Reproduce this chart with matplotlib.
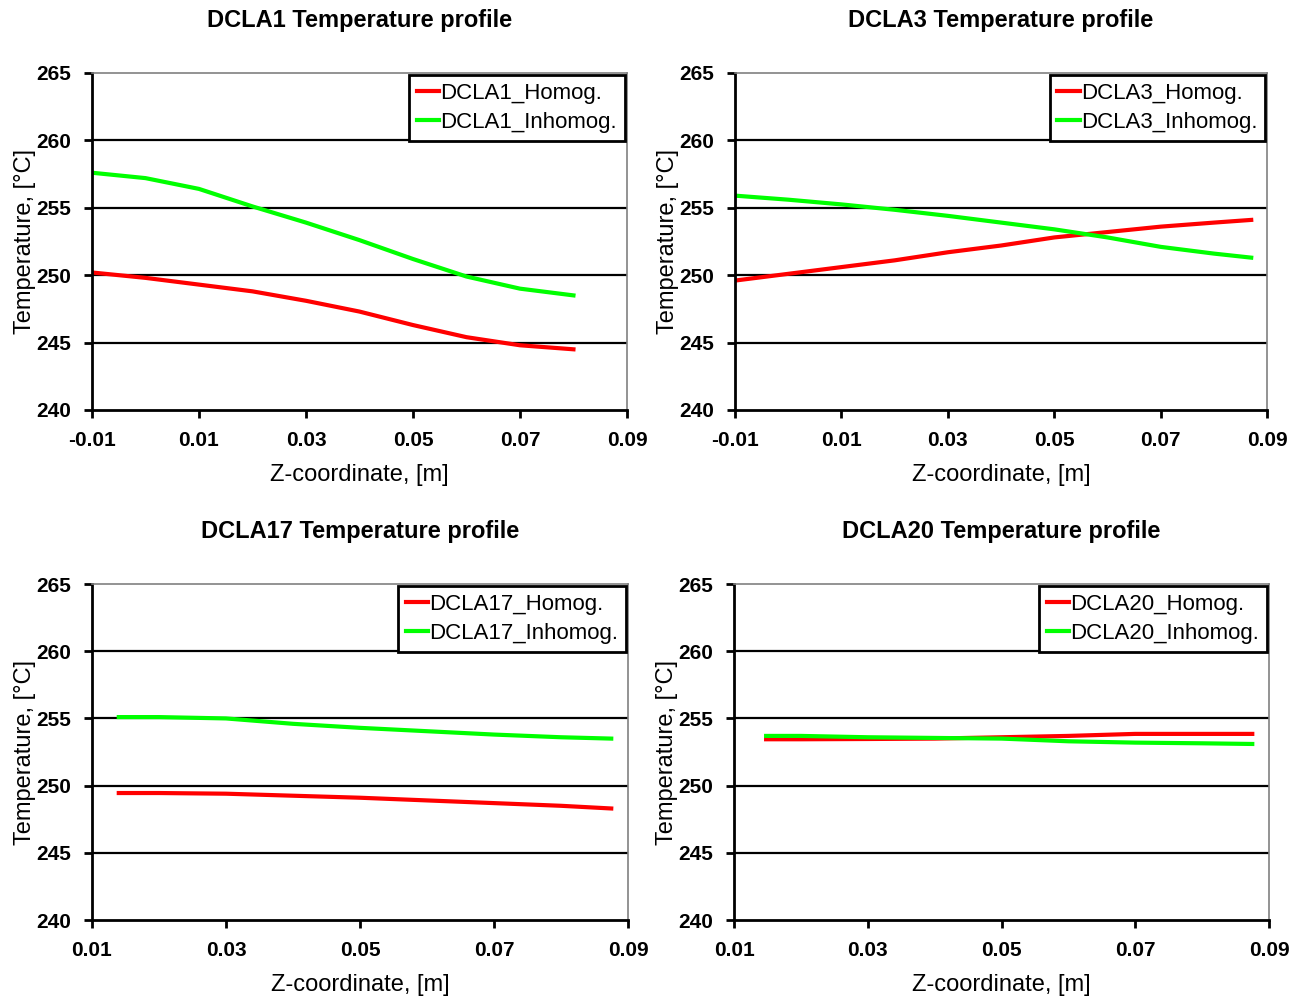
import matplotlib
matplotlib.use('Agg')
import matplotlib.pyplot as plt

plt.rcParams['font.family'] = ['Liberation Sans', 'DejaVu Sans']

# DCLA1
z1 = [-0.01, 0.0, 0.01, 0.02, 0.03, 0.04, 0.05, 0.06, 0.07, 0.08]
dcla1_homog = [250.2, 249.8, 249.3, 248.8, 248.1, 247.3, 246.3, 245.4, 244.8, 244.5]
dcla1_inhomog = [257.6, 257.2, 256.4, 255.1, 253.9, 252.6, 251.2, 249.9, 249.0, 248.5]

# DCLA3
z3 = [-0.01, 0.0, 0.01, 0.02, 0.03, 0.04, 0.05, 0.06, 0.07, 0.08, 0.087]
dcla3_homog = [249.6, 250.1, 250.6, 251.1, 251.7, 252.2, 252.8, 253.2, 253.6, 253.9, 254.1]
dcla3_inhomog = [255.9, 255.6, 255.25, 254.85, 254.4, 253.9, 253.4, 252.8, 252.1, 251.6, 251.3]

# DCLA17
z17 = [0.014, 0.02, 0.03, 0.04, 0.05, 0.06, 0.07, 0.08, 0.0875]
dcla17_homog = [249.45, 249.45, 249.4, 249.25, 249.1, 248.9, 248.7, 248.5, 248.3]
dcla17_inhomog = [255.1, 255.1, 255.0, 254.6, 254.3, 254.05, 253.8, 253.6, 253.5]

# DCLA20
z20 = [0.0148, 0.02, 0.03, 0.04, 0.05, 0.06, 0.07, 0.08, 0.0875]
dcla20_homog = [253.45, 253.45, 253.47, 253.5, 253.6, 253.7, 253.85, 253.85, 253.85]
dcla20_inhomog = [253.7, 253.7, 253.6, 253.55, 253.5, 253.3, 253.2, 253.15, 253.1]

y_ticks = [240, 245, 250, 255, 260, 265]
x_ticks_top = [-0.01, 0.01, 0.03, 0.05, 0.07, 0.09]
x_ticks_bottom = [0.01, 0.03, 0.05, 0.07, 0.09]

panels = [
    ('DCLA1', z1, dcla1_homog, dcla1_inhomog, x_ticks_top, [0.0707, 0.5888, 0.4112, 0.338]),
    ('DCLA3', z3, dcla3_homog, dcla3_inhomog, x_ticks_top, [0.5650, 0.5888, 0.4090, 0.338]),
    ('DCLA17', z17, dcla17_homog, dcla17_inhomog, x_ticks_bottom, [0.0707, 0.0772, 0.4120, 0.337]),
    ('DCLA20', z20, dcla20_homog, dcla20_inhomog, x_ticks_bottom, [0.5642, 0.0772, 0.4112, 0.337]),
]

fig = plt.figure(figsize=(13.01, 9.97), dpi=100)

for name, z, homog, inhomog, xt, rect in panels:
    ax = fig.add_axes(rect)
    ax.plot(z, homog, color='#ff0000', lw=3, label=name + '_Homog.')
    ax.plot(z, inhomog, color='#00ff00', lw=3, label=name + '_Inhomog.')
    ax.set_xlim(xt[0], xt[-1])
    ax.set_ylim(240, 265)
    ax.set_xticks(xt)
    ax.set_xticklabels(['%.2f' % v for v in xt])
    ax.set_yticks(y_ticks)
    for g in [245, 250, 255, 260]:
        ax.axhline(g, color='black', lw=1.6, zorder=0)
    for side in ['left', 'bottom']:
        ax.spines[side].set_linewidth(2)
        ax.spines[side].set_color('black')
    for side in ['top', 'right']:
        ax.spines[side].set_linewidth(1.2)
        ax.spines[side].set_color('#808080')
    ax.tick_params(direction='out', length=6, width=2, labelsize=15, pad=9)
    for lab in ax.get_xticklabels() + ax.get_yticklabels():
        lab.set_fontweight('bold')
    ax.set_xlabel('Z-coordinate, [m]', fontsize=17, labelpad=10)
    ax.set_ylabel('Temperature, [°C]', fontsize=17, labelpad=0)
    ax.set_title(name + ' Temperature profile', fontsize=17, fontweight='bold', pad=33)
    leg = ax.legend(loc='upper right', bbox_to_anchor=(1.0, 1.0), borderaxespad=0.1,
                    fancybox=False, edgecolor='black', fontsize=16, handlelength=1.0,
                    handletextpad=0.05, borderpad=0.35, labelspacing=0.35, framealpha=1)
    leg.get_frame().set_linewidth(2)

fig.savefig('out.png', dpi=100)
